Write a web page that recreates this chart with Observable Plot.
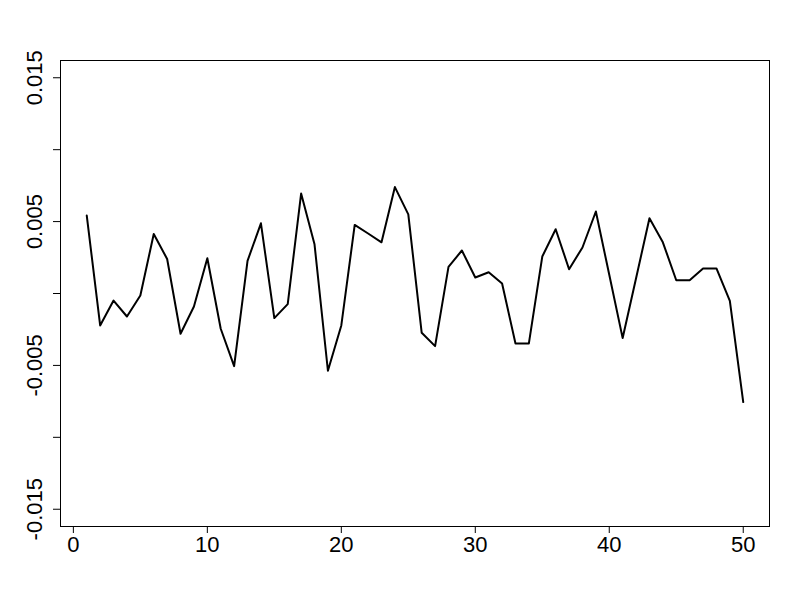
<!DOCTYPE html>
<html><head><meta charset="utf-8">
<script src="https://cdn.jsdelivr.net/npm/d3@7"></script>
<script src="https://cdn.jsdelivr.net/npm/@observablehq/plot@0.6"></script>
<style>body{margin:0;background:#fff}</style>
</head><body><div id="chart"></div>
<script>
const index = [1,2,3,4,5,6,7,8,9,10,11,12,13,14,15,16,17,18,19,20,21,22,23,24,25,26,27,28,29,30,31,32,33,34,35,36,37,38,39,40,41,42,43,44,45,46,47,48,49,50];
const values = [0.00542,-0.00222,-0.00049,-0.0016,-0.00014,0.00414,0.0024,-0.0028,-0.0009,0.00245,
  -0.00245,-0.00505,0.00227,0.00488,-0.00171,-0.00074,0.00695,0.00342,-0.00537,-0.00222,
  0.00477,0.00417,0.00356,0.0074,0.0055,-0.00273,-0.00366,0.00185,0.00299,0.00111,
  0.00148,0.00069,-0.00347,-0.00347,0.00257,0.00447,0.00169,0.0032,0.0057,0.0013,
  -0.0031,0.00106,0.00523,0.00356,0.00092,0.00092,0.00174,0.00174,-0.00051,-0.00755];
const xTicks = [0,10,20,30,40,50];
const yTicks = [-0.015,-0.01,-0.005,0,0.005,0.01,0.015];
const yLabels = [-0.015,-0.005,0.005,0.015];

const data = index.map((x,i)=>({x, y: values[i]}));

const chart = Plot.plot({
  width: 800, height: 600,
  marginLeft: 60, marginRight: 31, marginTop: 60, marginBottom: 74,
  x: {domain: [-0.96, 51.96], label: null},
  y: {domain: [-0.0162, 0.0162], label: null},
  style: {fontFamily: "'Liberation Sans', Arial, sans-serif", fontSize: "22px", background: "white", color: "black"},
  marks: [
    Plot.axisX(xTicks, {tickSize: 7, tickPadding: 3, fontSize: 22, label: null, stroke: "black"}),
    Plot.axisY(yTicks, {tickSize: 7, tickFormat: () => "", label: null, stroke: "black"}),
    Plot.text(yLabels, {y: d => d, text: d => String(d), frameAnchor: "left", textAnchor: "middle", dx: -26, rotate: -90, fontSize: 22, fill: "black"}),
    Plot.line(data, {x: "x", y: "y", stroke: "black", strokeWidth: 2}),
    Plot.frame({stroke: "black", strokeWidth: 1})
  ]
});
document.getElementById("chart").appendChild(chart);
</script>
</body></html>
